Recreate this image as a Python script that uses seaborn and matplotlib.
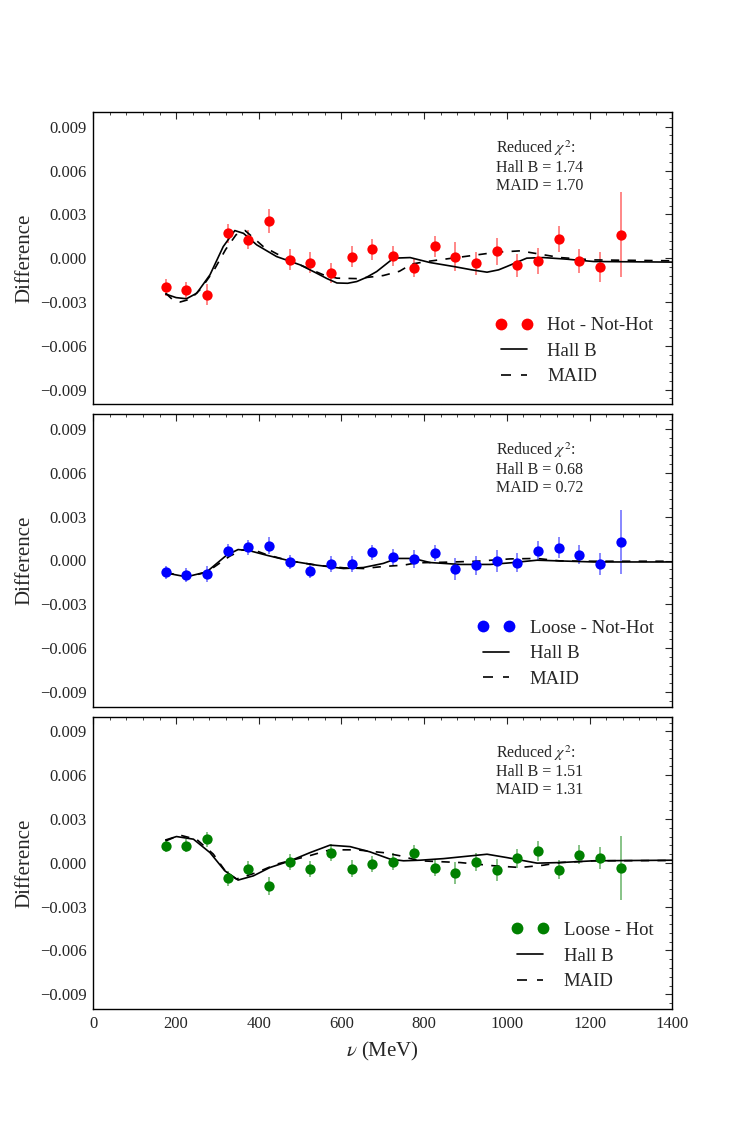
import numpy as np
import pandas as pd
import matplotlib
matplotlib.use("Agg")
import matplotlib.pyplot as plt
from matplotlib.ticker import AutoMinorLocator, FuncFormatter
from matplotlib.lines import Line2D
from matplotlib.legend_handler import HandlerLine2D
import seaborn as sns

# ---- data ----
nu = [175, 225, 275, 325, 375, 425, 475, 525, 575, 625, 675, 725, 775, 825,
      875, 925, 975, 1025, 1075, 1125, 1175, 1225, 1275]

hot_nothot = [-0.0020, -0.0022, -0.0025, 0.0017, 0.00125, 0.00255, -0.0001, -0.0003,
              -0.0010, 0.0001, 0.0006, 0.00014, -0.00064, 0.0008, 0.0001, -0.00035,
              0.00046, -0.0005, -0.0002, 0.00133, -0.0002, -0.0006, 0.0016]
hot_nothot_err = [0.0006, 0.0006, 0.0007, 0.00065, 0.00065, 0.0008, 0.0007, 0.0007,
                  0.0007, 0.0007, 0.0007, 0.0007, 0.00065, 0.00075, 0.001, 0.0008,
                  0.00095, 0.0008, 0.0009, 0.0009, 0.0008, 0.001, 0.0029]

loose_nothot = [-0.00082, -0.00098, -0.00093, 0.00066, 0.00091, 0.00102, -0.0001, -0.0007,
                -0.00027, -0.00027, 0.00055, 0.00025, 0.0001, 0.00052, -0.00057, -0.00032,
                -0.00002, -0.00016, 0.00064, 0.00089, 0.00041, -0.00025, 0.00127]
loose_nothot_err = [0.00045, 0.0005, 0.00055, 0.00045, 0.0005, 0.0006, 0.00045, 0.0005,
                    0.00055, 0.00055, 0.0005, 0.00055, 0.0006, 0.00055, 0.00075, 0.00065,
                    0.00075, 0.00065, 0.0007, 0.00075, 0.00065, 0.00075, 0.0022]

loose_hot = [0.00116, 0.00118, 0.0016, -0.00107, -0.00039, -0.00157, 0.00005, -0.00039,
             0.0007, -0.00041, -0.00007, 0.00009, 0.00068, -0.00032, -0.00068, 0.00005,
             -0.0005, 0.00032, 0.00082, -0.00048, 0.00057, 0.00034, -0.00036]
loose_hot_err = [0.00045, 0.00045, 0.0005, 0.0005, 0.00055, 0.0006, 0.00055, 0.00055,
                 0.0006, 0.00058, 0.00055, 0.0006, 0.00055, 0.00057, 0.00075, 0.0006,
                 0.00075, 0.00065, 0.0007, 0.00065, 0.00065, 0.00075, 0.0022]

# model curves (Hall B / MAID) per panel
hallb1_nu = [175, 200, 225, 250, 282, 314, 342, 363, 395, 443, 500, 540, 565, 589, 615,
             637, 660, 685, 726, 766, 814, 871, 915, 952, 980, 1000, 1048, 1089, 1145,
             1210, 1400]
hallb1 = [-0.00246, -0.0027, -0.00278, -0.0024, -0.00114, 0.00079, 0.00189, 0.0017,
          0.00091, 0.00011, -0.00046, -0.00103, -0.0014, -0.0017, -0.00172, -0.0016,
          -0.00132, -0.00092, 0.0, 0.00004, -0.0003, -0.00057, -0.0008, -0.00096,
          -0.0008, -0.00057, 0.0, 0.00004, -0.00007, -0.00023, -0.00027]
maid1_nu = [175, 190, 210, 235, 260, 290, 320, 345, 367, 411, 450, 500, 556, 589, 637,
            701, 740, 770, 806, 887, 976, 1032, 1081, 1129, 1210, 1400]
maid1 = [-0.0024, -0.0028, -0.0030, -0.0028, -0.0021, -0.0009, 0.0006, 0.0016, 0.00189,
         0.00079, 0.0002, -0.00046, -0.00114, -0.00137, -0.0014, -0.00119, -0.0009,
         -0.0004, -0.00023, 0.00007, 0.00041, 0.0005, 0.00027, 0.00004, -0.00012, -0.00018]

hallb2_nu = [175, 225, 274, 322, 350, 379, 419, 476, 540, 605, 653, 701, 734, 774, 814,
             887, 960, 1008, 1073, 1129, 1210, 1400]
hallb2 = [-0.00085, -0.00112, -0.00078, 0.00036, 0.00075, 0.00066, 0.00036, -0.00003,
          -0.00032, -0.00055, -0.00048, -0.0002, 0.00014, 0.00014, -0.00014, -0.00027,
          -0.00027, -0.00016, 0.00002, -0.00003, -0.0001, -0.0001]
maid2_nu = [175, 225, 274, 330, 360, 390, 419, 476, 540, 605, 653, 701, 750, 782, 847,
            927, 1008, 1073, 1129, 1210, 1400]
maid2 = [-0.0008, -0.00115, -0.0008, 0.0003, 0.00072, 0.0007, 0.0004, -0.00003, -0.00032,
         -0.0005, -0.00055, -0.00041, -0.00032, -0.00016, -0.00012, -0.00005, 0.00011,
         0.00014, -0.00003, -0.00005, -0.00005]

hallb3_nu = [175, 201, 242, 282, 318, 350, 387, 427, 476, 524, 572, 621, 669, 718, 750,
             790, 847, 952, 1000, 1073, 1129, 1210, 1400]
hallb3 = [0.00157, 0.0018, 0.00162, 0.0007, -0.00055, -0.00118, -0.00089, -0.00032,
          0.00014, 0.0007, 0.00121, 0.00111, 0.00075, 0.00025, 0.00014, 0.00018, 0.00029,
          0.00059, 0.00036, -0.00002, 0.00002, 0.00014, 0.00018]
maid3_nu = [175, 209, 250, 290, 320, 346, 395, 443, 524, 572, 637, 701, 742, 766, 790,
            887, 968, 1032, 1089, 1129, 1210, 1400]
maid3 = [0.0015, 0.0019, 0.0016, 0.0006, -0.0006, -0.00111, -0.00066, -0.00009, 0.0005,
         0.00089, 0.00089, 0.0007, 0.00048, 0.0003, 0.00014, 0.00002, -0.0002, -0.00032,
         -0.00016, 0.00002, 0.00014, 0.00016]

panels = [
    ("Hot - Not-Hot", "red", hot_nothot, hot_nothot_err, hallb1_nu, hallb1, maid1_nu, maid1, "1.74", "1.70"),
    ("Loose - Not-Hot", "blue", loose_nothot, loose_nothot_err, hallb2_nu, hallb2, maid2_nu, maid2, "0.68", "0.72"),
    ("Loose - Hot", "green", loose_hot, loose_hot_err, hallb3_nu, hallb3, maid3_nu, maid3, "1.51", "1.31"),
]

# ---- style ----
sns.set_style("white")
plt.rcParams["font.family"] = ["Liberation Serif", "DejaVu Serif"]
plt.rcParams["mathtext.fontset"] = "stix"
plt.rcParams["xtick.direction"] = "in"
plt.rcParams["ytick.direction"] = "in"

dash = (0, (5, 5))
fig, axes = plt.subplots(3, 1, figsize=(7.47, 11.21), dpi=100, sharex=True)
fig.subplots_adjust(left=0.125, right=0.9, top=0.9, bottom=0.1, hspace=0.035)

for ax, (lab, col, d, e, hnu, hb, mnu, md, chi_h, chi_m) in zip(axes, panels):
    df = pd.DataFrame({"nu": nu, "diff": d, "err": e})
    ax.errorbar(df["nu"], df["diff"], yerr=df["err"], fmt="none",
                ecolor=col, alpha=0.55, elinewidth=1.2, capsize=0)
    sns.scatterplot(data=df, x="nu", y="diff", color=col, s=55, linewidth=0,
                    ax=ax, zorder=3, legend=False)
    sns.lineplot(x=hnu, y=hb, color="black", lw=1.2, ax=ax,
                 estimator=None, sort=False)
    sns.lineplot(x=mnu, y=md, color="black", lw=1.2, ax=ax,
                 estimator=None, sort=False, linestyle=dash)

    ax.set_xlim(0, 1400)
    ax.set_ylim(-0.010, 0.010)
    ax.set_yticks([-0.009, -0.006, -0.003, 0.0, 0.003, 0.006, 0.009])
    ax.yaxis.set_major_formatter(FuncFormatter(lambda v, p: f"{v:.3f}".replace("-", "\u2212")))
    ax.xaxis.set_minor_locator(AutoMinorLocator(5))
    ax.yaxis.set_minor_locator(AutoMinorLocator(5))
    ax.tick_params(which="both", top=True, right=True, labelsize=12)
    ax.tick_params(which="major", length=5, width=0.8, pad=5)
    ax.tick_params(which="minor", length=2.5, width=0.6)
    for sp in ax.spines.values():
        sp.set_linewidth(1.0)
        sp.set_color("black")
    ax.set_ylabel("Difference", fontsize=15, labelpad=4)
    ax.set_xlabel("")

    ax.text(0.695, 0.91,
            "Reduced $\\chi^2$:\nHall B = %s\nMAID = %s" % (chi_h, chi_m),
            transform=ax.transAxes, fontsize=11.5, va="top", ha="left",
            linespacing=1.15)

    handles = [Line2D([], [], marker="o", ls="none", color=col, markersize=8.5, mew=0),
               Line2D([], [], color="black", lw=1.2),
               Line2D([], [], color="black", lw=1.2, linestyle=(0, (6, 6)))]
    ax.legend(handles, [lab, "Hall B", "MAID"],
              loc="lower right", frameon=False, fontsize=13.5, numpoints=2,
              handlelength=1.4, handletextpad=1.1,
              labelspacing=0.45, borderaxespad=0.6,
              handler_map={Line2D: HandlerLine2D(marker_pad=0)})

axes[-1].set_xticks([0, 200, 400, 600, 800, 1000, 1200, 1400])
axes[-1].set_xlabel("$\\nu$ (MeV)", fontsize=15, labelpad=6)

fig.savefig("out.png", dpi=100, facecolor="white")
